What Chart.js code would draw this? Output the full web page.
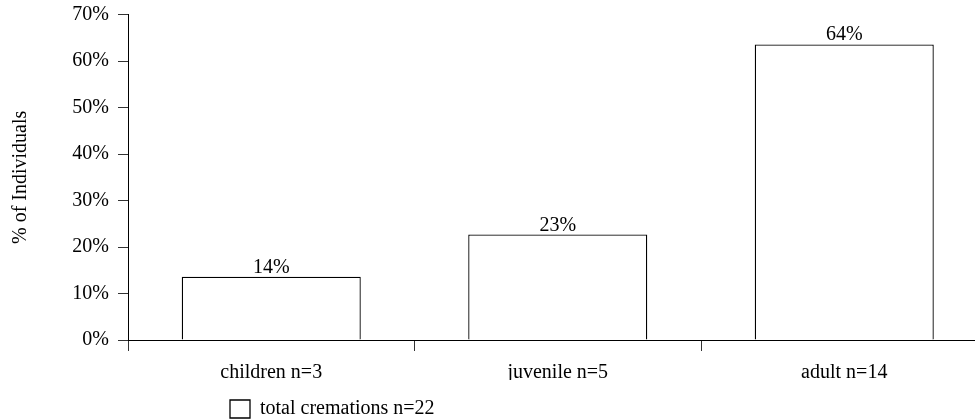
<!DOCTYPE html>
<html>
<head>
<meta charset="utf-8">
<script src="https://cdn.jsdelivr.net/npm/chart.js@4.4.0/dist/chart.umd.min.js"></script>
<style>
html,body{margin:0;padding:0;background:#fff;overflow:hidden;width:975px;height:420px}
#wrap{width:1000px;height:420px;position:relative}
</style>
</head>
<body>
<div id="wrap"><canvas id="c"></canvas></div>
<script>
const categories = ['children n=3', 'juvenile n=5', 'adult n=14'];
const percentValues = [13.6, 22.7, 63.6];
const seriesLabel = 'total cremations n=22';
const yMin = 0, yMax = 70, yStep = 10;
const axisTitle = '% of Individuals';

const FONT = 'Liberation Serif, Times New Roman, serif';

const valueLabels = {
  id: 'valueLabels',
  afterDatasetsDraw(chart) {
    const ctx = chart.ctx;
    const meta = chart.getDatasetMeta(0);
    ctx.save();
    ctx.font = '20px ' + FONT;
    ctx.fillStyle = '#000';
    ctx.textAlign = 'center';
    ctx.textBaseline = 'alphabetic';
    meta.data.forEach((bar, i) => {
      const v = chart.data.datasets[0].data[i];
      ctx.fillText(Math.round(v) + '%', bar.x, bar.y - 4);
    });
    ctx.restore();
  }
};

const legendShift = {
  id: 'legendShift',
  afterLayout(chart) {
    const lg = chart.legend;
    if (!lg) return;
    lg.left += 220; lg.right += 220;
    lg.top += 9; lg.bottom += 9;
  }
};

new Chart(document.getElementById('c'), {
  type: 'bar',
  data: {
    labels: categories,
    datasets: [{
      label: seriesLabel,
      data: percentValues,
      backgroundColor: '#ffffff',
      borderColor: '#000000',
      borderWidth: 1.3,
      barPercentage: 0.625,
      categoryPercentage: 1.0
    }]
  },
  options: {
    responsive: true,
    maintainAspectRatio: false,
    animation: false,
    layout: { padding: { left: 0, right: 12.5, top: 14.7, bottom: 0 } },
    plugins: {
      tooltip: { enabled: false },
      legend: {
        position: 'bottom',
        align: 'start',
        labels: {
          font: { family: FONT, size: 20 },
          color: '#000',
          boxWidth: 20,
          boxHeight: 18,
          padding: 10
        }
      }
    },
    scales: {
      x: {
        afterFit(scale) { scale.height = 40; },
        grid: { drawOnChartArea: false, drawTicks: true, tickLength: 11, color: '#333', offset: true },
        border: { display: true, color: '#000', width: 1 },
        ticks: { font: { family: FONT, size: 20 }, color: '#000', padding: 10 }
      },
      y: {
        min: yMin, max: yMax,
        afterFit(scale) { scale.width = 128; scale.paddingTop = 0; scale.paddingBottom = 0; },
        grid: { drawOnChartArea: false, drawTicks: true, tickLength: 10, color: '#333' },
        border: { display: true, color: '#000', width: 1 },
        ticks: { stepSize: yStep, font: { family: FONT, size: 20 }, color: '#000', padding: 9,
                 callback: (v) => v + '%' },
        title: { display: true, text: axisTitle, font: { family: FONT, size: 20 }, color: '#000',
                 padding: { top: 9, bottom: 4 } }
      }
    }
  },
  plugins: [valueLabels, legendShift]
});
</script>
</body>
</html>
